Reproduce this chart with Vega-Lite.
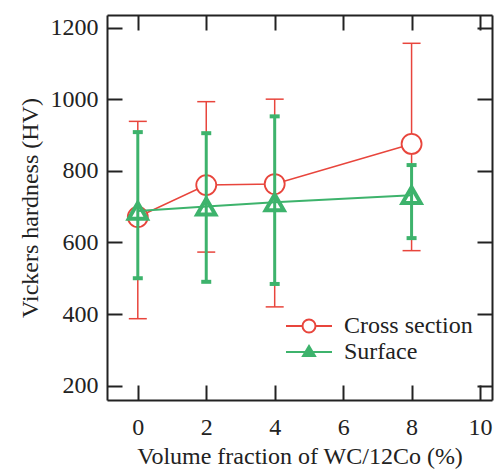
{
  "$schema": "https://vega.github.io/schema/vega-lite/v6.json",
  "width": 385,
  "height": 385,
  "autosize": {"type": "none"},
  "padding": {"left": 107, "top": 15, "right": 5, "bottom": 72},
  "background": "white",
  "config": {
    "view": {"stroke": null},
    "font": "Liberation Serif",
    "axis": {
      "grid": false,
      "labelFont": "Liberation Serif",
      "titleFont": "Liberation Serif",
      "labelFontSize": 24,
      "titleFontSize": 24,
      "titleFontWeight": "normal",
      "labelColor": "#222",
      "titleColor": "#222",
      "domainColor": "#222",
      "domainWidth": 2,
      "tickColor": "#222",
      "tickWidth": 2,
      "tickSize": -15,
      "format": "d"
    },
    "legend": {"labelFont": "Liberation Serif", "labelFontSize": 24, "labelColor": "#222"}
  },
  "data": {
    "values": [
      {"x": 0, "series": "Cross section", "y": 671, "lo": 387, "hi": 938},
      {"x": 2, "series": "Cross section", "y": 760, "lo": 573, "hi": 993},
      {"x": 4, "series": "Cross section", "y": 763, "lo": 420, "hi": 1000},
      {"x": 8, "series": "Cross section", "y": 875, "lo": 577, "hi": 1156},
      {"x": 0, "series": "Surface", "y": 688, "lo": 500, "hi": 908},
      {"x": 2, "series": "Surface", "y": 700, "lo": 490, "hi": 905},
      {"x": 4, "series": "Surface", "y": 712, "lo": 484, "hi": 952},
      {"x": 8, "series": "Surface", "y": 732, "lo": 612, "hi": 816}
    ]
  },
  "resolve": {"axis": {"x": "independent", "y": "independent"}},
  "layer": [
    {
      "transform": [{"filter": "datum.series == 'Cross section'"}],
      "mark": {"type": "rule", "color": "#e8453c", "strokeWidth": 1.5},
      "encoding": {
        "x": {"field": "x", "type": "quantitative", "scale": {"domain": [-0.9, 10.35], "nice": false, "zero": false},
          "axis": {"orient": "bottom", "values": [0, 2, 4, 6, 8, 10], "title": "Volume fraction of WC/12Co (%)", "labelPadding": 30, "titlePadding": 5}},
        "y": {"field": "lo", "type": "quantitative", "scale": {"domain": [160, 1235], "nice": false, "zero": false},
          "axis": {"orient": "left", "values": [200, 400, 600, 800, 1000, 1200], "title": "Vickers hardness (HV)", "labelPadding": 24, "titlePadding": 8}},
        "y2": {"field": "hi"}
      }
    },
    {
      "transform": [{"filter": "datum.series == 'Cross section'"}],
      "mark": {"type": "tick", "orient": "horizontal", "color": "#e8453c", "thickness": 1.5, "size": 18, "opacity": 1},
      "encoding": {
        "x": {"field": "x", "type": "quantitative", "axis": null},
        "y": {"field": "hi", "type": "quantitative", "axis": null}
      }
    },
    {
      "transform": [{"filter": "datum.series == 'Cross section'"}],
      "mark": {"type": "tick", "orient": "horizontal", "color": "#e8453c", "thickness": 1.5, "size": 18, "opacity": 1},
      "encoding": {
        "x": {"field": "x", "type": "quantitative", "axis": null},
        "y": {"field": "lo", "type": "quantitative", "axis": null}
      }
    },
    {
      "transform": [{"filter": "datum.series == 'Cross section'"}],
      "mark": {"type": "line", "color": "#e8453c", "strokeWidth": 1.5},
      "encoding": {
        "x": {"field": "x", "type": "quantitative", "axis": null},
        "y": {"field": "y", "type": "quantitative", "axis": null}
      }
    },
    {
      "transform": [{"filter": "datum.series == 'Cross section'"}],
      "mark": {"type": "point", "shape": "circle", "filled": true, "fill": "white", "stroke": "#e8453c", "strokeWidth": 1.8, "size": 400, "opacity": 1},
      "encoding": {
        "x": {"field": "x", "type": "quantitative", "axis": null},
        "y": {"field": "y", "type": "quantitative", "axis": null}
      }
    },
    {
      "transform": [{"filter": "datum.series == 'Surface'"}],
      "mark": {"type": "rule", "color": "#3db36c", "strokeWidth": 3},
      "encoding": {
        "x": {"field": "x", "type": "quantitative",
          "axis": {"orient": "top", "values": [0, 2, 4, 6, 8, 10], "labels": false, "title": null}},
        "y": {"field": "lo", "type": "quantitative",
          "axis": {"orient": "right", "values": [200, 400, 600, 800, 1000, 1200], "labels": false, "title": null}},
        "y2": {"field": "hi"}
      }
    },
    {
      "transform": [{"filter": "datum.series == 'Surface'"}],
      "mark": {"type": "tick", "orient": "horizontal", "color": "#3db36c", "thickness": 4, "size": 10, "opacity": 1},
      "encoding": {
        "x": {"field": "x", "type": "quantitative", "axis": null},
        "y": {"field": "hi", "type": "quantitative", "axis": null}
      }
    },
    {
      "transform": [{"filter": "datum.series == 'Surface'"}],
      "mark": {"type": "tick", "orient": "horizontal", "color": "#3db36c", "thickness": 4, "size": 10, "opacity": 1},
      "encoding": {
        "x": {"field": "x", "type": "quantitative", "axis": null},
        "y": {"field": "lo", "type": "quantitative", "axis": null}
      }
    },
    {
      "transform": [{"filter": "datum.series == 'Surface'"}],
      "mark": {"type": "line", "color": "#3db36c", "strokeWidth": 2},
      "encoding": {
        "x": {"field": "x", "type": "quantitative", "axis": null},
        "y": {"field": "y", "type": "quantitative", "axis": null}
      }
    },
    {
      "transform": [{"filter": "datum.series == 'Surface'"}],
      "mark": {"type": "point", "shape": "triangle-up", "filled": false, "stroke": "#3db36c", "strokeWidth": 4, "size": 330, "opacity": 1},
      "encoding": {
        "x": {"field": "x", "type": "quantitative", "axis": null},
        "y": {"field": "y", "type": "quantitative", "axis": null}
      }
    },
    {
      "transform": [{"filter": "false"}],
      "mark": {"type": "point", "filled": false, "opacity": 1, "strokeWidth": 2},
      "encoding": {
        "x": {"field": "x", "type": "quantitative", "axis": null},
        "y": {"field": "y", "type": "quantitative", "axis": null},
        "shape": {"field": "series", "type": "nominal",
          "scale": {"domain": ["Cross section", "Surface"], "range": ["M-2.3,0H-0.65M0.65,0H2.3M-0.65,0A0.65,0.65,0,1,1,0.65,0A0.65,0.65,0,1,1,-0.65,0", "M-2.3,0H2.3M-0.6,0.4L0.6,0.4L0,-0.6Z"]},
          "legend": {"title": null, "orient": "none", "legendX": 190, "legendY": 299, "symbolSize": 400, "symbolStrokeWidth": 2, "labelOffset": 23, "rowPadding": 2, "symbolOpacity": 1}},
        "stroke": {"field": "series", "type": "nominal",
          "scale": {"domain": ["Cross section", "Surface"], "range": ["#e8453c", "#3db36c"]},
          "legend": {"title": null, "orient": "none", "legendX": 190, "legendY": 299, "symbolSize": 400, "symbolStrokeWidth": 2, "labelOffset": 23, "rowPadding": 2, "symbolOpacity": 1}},
        "fill": {"field": "series", "type": "nominal",
          "scale": {"domain": ["Cross section", "Surface"], "range": ["white", "#3db36c"]},
          "legend": {"title": null, "orient": "none", "legendX": 190, "legendY": 299, "symbolSize": 400, "symbolStrokeWidth": 2, "labelOffset": 23, "rowPadding": 2, "symbolOpacity": 1}}
      }
    }
  ]
}
